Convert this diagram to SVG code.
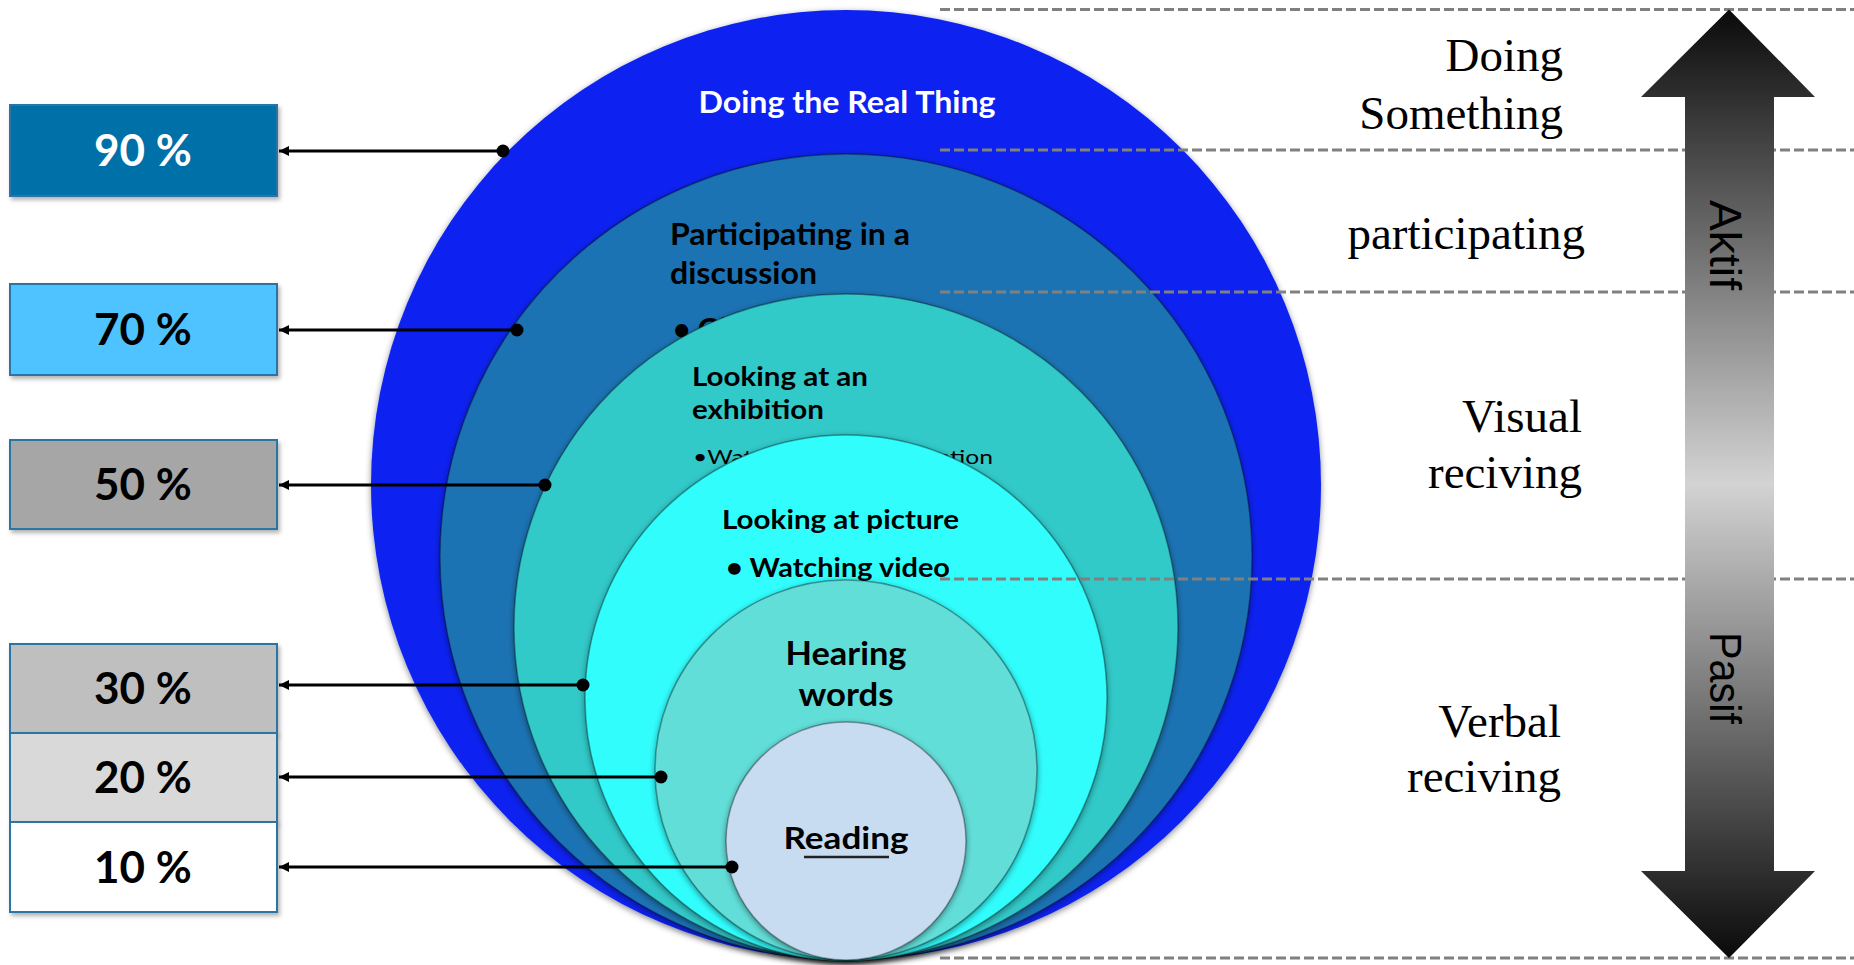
<svg xmlns="http://www.w3.org/2000/svg" width="1854" height="965" viewBox="0 0 1854 965">
<defs>
<style>
.pct{font-family:Lato,"Open Sans",sans-serif;font-weight:700;font-size:44px;text-anchor:middle}
.ct{font-family:Lato,"Open Sans",sans-serif;font-weight:700;fill:#000}
.rl{font-family:"Liberation Serif","Times New Roman",serif;font-size:47px;fill:#000;text-anchor:end}
.vt{font-family:"Liberation Sans",Arial,sans-serif;font-size:44px;fill:#000;text-anchor:middle}
.box{stroke:#2a74a6;stroke-width:2}
.ring{stroke:rgba(0,0,0,0.35);stroke-width:1.5}
.conn{stroke:#000;stroke-width:3;fill:none}
.dash{stroke:#808080;stroke-width:3;stroke-dasharray:10 4;fill:none}
</style>
<filter id="sh" x="-10%" y="-10%" width="120%" height="125%">
<feDropShadow dx="0" dy="2" stdDeviation="3" flood-color="#000" flood-opacity="0.45"/>
</filter>
<filter id="bsh" x="-10%" y="-10%" width="125%" height="135%">
<feDropShadow dx="2" dy="3" stdDeviation="2" flood-color="#000" flood-opacity="0.3"/>
</filter>
<marker id="ah" markerUnits="userSpaceOnUse" markerWidth="12" markerHeight="12" refX="10" refY="6" orient="auto">
<path d="M0,1 L10,6 L0,11 z" fill="#000"/>
</marker>
<linearGradient id="ag" gradientUnits="userSpaceOnUse" x1="0" y1="9" x2="0" y2="958">
<stop offset="0" stop-color="#0a0a0a"/>
<stop offset="0.5" stop-color="#d3d3d3"/>
<stop offset="1" stop-color="#0a0a0a"/>
</linearGradient>
</defs>
<rect width="1854" height="965" fill="#fff"/>

<g id="circle-doing">
<circle cx="846" cy="485" r="475" fill="#0B22F0" filter="url(#sh)"/>
<text class="ct" x="847" y="113" font-size="30" fill="#fff" style="fill:#fff" text-anchor="middle" textLength="297" lengthAdjust="spacingAndGlyphs">Doing the Real Thing</text>
</g>
<g id="circle-participating">
<ellipse class="ring" cx="846" cy="557" rx="406" ry="403" fill="#1A73B3" filter="url(#sh)"/>
<text class="ct" x="670" y="245" font-size="30" textLength="240" lengthAdjust="spacingAndGlyphs">Participating in a</text>
<text class="ct" x="670" y="284" font-size="30" textLength="147" lengthAdjust="spacingAndGlyphs">discussion</text>
<text class="ct" x="673" y="340" font-size="30">• Giving a talk</text>
</g>
<g id="circle-exhibition">
<ellipse class="ring" cx="846" cy="627" rx="332" ry="333" fill="#32C9C9" filter="url(#sh)"/>
<text class="ct" x="692" y="386" font-size="26" textLength="176" lengthAdjust="spacingAndGlyphs">Looking at an</text>
<text class="ct" x="692" y="419" font-size="26" textLength="132" lengthAdjust="spacingAndGlyphs">exhibition</text>
<text class="ct" x="693" y="464" font-size="20" style="font-weight:400" textLength="300" lengthAdjust="spacingAndGlyphs">•Watching a demonstration</text>
</g>
<g id="circle-picture">
<ellipse class="ring" cx="846" cy="698" rx="261" ry="263" fill="#31FDFD" filter="url(#sh)"/>
<text class="ct" x="722" y="529" font-size="26" textLength="237" lengthAdjust="spacingAndGlyphs">Looking at picture</text>
<text class="ct" x="726" y="577" font-size="26" textLength="224" lengthAdjust="spacingAndGlyphs">• Watching video</text>
</g>
<g id="circle-hearing">
<ellipse class="ring" cx="846" cy="770" rx="191" ry="190" fill="#62DED9" filter="url(#sh)"/>
<text class="ct" x="846" y="665" font-size="32" text-anchor="middle" textLength="121" lengthAdjust="spacingAndGlyphs">Hearing</text>
<text class="ct" x="846" y="706" font-size="32" text-anchor="middle" textLength="95" lengthAdjust="spacingAndGlyphs">words</text>
</g>
<g id="circle-reading">
<ellipse class="ring" cx="846" cy="841" rx="120" ry="119" fill="#C8DCF1" filter="url(#sh)"/>
<text class="ct" x="846" y="849" font-size="30" text-anchor="middle" textLength="125" lengthAdjust="spacingAndGlyphs">Reading</text>
<line x1="804" y1="857" x2="889" y2="857" stroke="#222" stroke-width="2.5"/>
</g>

<g id="boxes">
<g id="box-90"><rect class="box" x="10" y="105" width="267" height="91" fill="#0070A8" filter="url(#bsh)"/><text class="pct" x="143" y="166" fill="#fff">90 %</text></g>
<g id="box-70"><rect class="box" x="10" y="284" width="267" height="91" fill="#4FC3FF" filter="url(#bsh)"/><text class="pct" x="143" y="345" fill="#000">70 %</text></g>
<g id="box-50"><rect class="box" x="10" y="440" width="267" height="89" fill="#A6A6A6" filter="url(#bsh)"/><text class="pct" x="143" y="500" fill="#000">50 %</text></g>
<g id="box-30"><rect class="box" x="10" y="644" width="267" height="89" fill="#BFBFBF" filter="url(#bsh)"/><text class="pct" x="143" y="704" fill="#000">30 %</text></g>
<g id="box-20"><rect class="box" x="10" y="733" width="267" height="89" fill="#D9D9D9" filter="url(#bsh)"/><text class="pct" x="143" y="793" fill="#000">20 %</text></g>
<g id="box-10"><rect class="box" x="10" y="822" width="267" height="90" fill="#FFFFFF" filter="url(#bsh)"/><text class="pct" x="143" y="883" fill="#000">10 %</text></g>
</g>

<g id="connectors">
<line class="conn" x1="503" y1="151" x2="279" y2="151" marker-end="url(#ah)"/>
<circle cx="503" cy="151" r="6.5" fill="#000"/>
<line class="conn" x1="517" y1="330" x2="279" y2="330" marker-end="url(#ah)"/>
<circle cx="517" cy="330" r="6.5" fill="#000"/>
<line class="conn" x1="545" y1="485" x2="279" y2="485" marker-end="url(#ah)"/>
<circle cx="545" cy="485" r="6.5" fill="#000"/>
<line class="conn" x1="583" y1="685" x2="279" y2="685" marker-end="url(#ah)"/>
<circle cx="583" cy="685" r="6.5" fill="#000"/>
<line class="conn" x1="661" y1="777" x2="279" y2="777" marker-end="url(#ah)"/>
<circle cx="661" cy="777" r="6.5" fill="#000"/>
<line class="conn" x1="732" y1="867" x2="279" y2="867" marker-end="url(#ah)"/>
<circle cx="732" cy="867" r="6.5" fill="#000"/>
</g>

<g id="guides">
<line class="dash" x1="940" y1="9.5" x2="1854" y2="9.5"/>
<line class="dash" x1="940" y1="150" x2="1854" y2="150"/>
<line class="dash" x1="940" y1="292" x2="1854" y2="292"/>
<line class="dash" x1="940" y1="579" x2="1854" y2="579"/>
<line class="dash" x1="940" y1="958" x2="1854" y2="958"/>
</g>

<g id="labels-right">
<text class="rl" x="1563" y="71">Doing</text>
<text class="rl" x="1563" y="129">Something</text>
<text class="rl" x="1585" y="249">participating</text>
<text class="rl" x="1582" y="432">Visual</text>
<text class="rl" x="1582" y="488">reciving</text>
<text class="rl" x="1561" y="737">Verbal</text>
<text class="rl" x="1561" y="792">reciving</text>
</g>

<g id="scale-arrow">
<polygon points="1729,9.5 1815,97 1774,97 1774,871 1815,871 1729,958 1641,871 1685,871 1685,97 1641,97" fill="url(#ag)"/>
<text class="vt" transform="translate(1726,245) rotate(90)" x="0" y="16" textLength="90" lengthAdjust="spacingAndGlyphs">Aktif</text>
<text class="vt" transform="translate(1726,678) rotate(90)" x="0" y="16" textLength="92" lengthAdjust="spacingAndGlyphs">Pasif</text>
</g>
</svg>
